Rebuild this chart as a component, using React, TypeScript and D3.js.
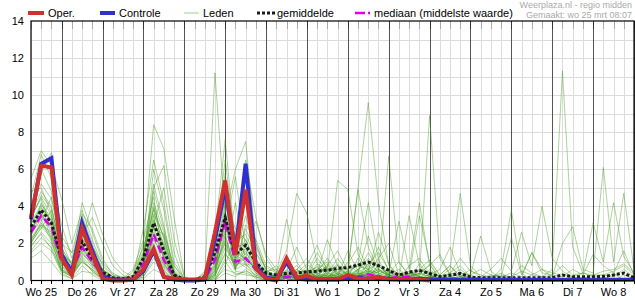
import React from 'react';
import * as d3 from 'd3';

const days = ['Wo 25','Do 26','Vr 27','Za 28','Zo 29','Ma 30','Di 31','Wo 1','Do 2','Vr 3','Za 4','Zo 5','Ma 6','Di 7','Wo 8'];
const yTicks = [0, 2, 4, 6, 8, 10, 12, 14];

// 6-hourly values starting Wo 25 06:00
const oper = [3.4,6.2,6.1,1.2, 0.3,2.8,1.4,0.1, 0,0,0.05,0.6, 1.7,0.2,0.1,0.05, 0.05,0.1,2.6,5.4, 1.4,4.9,0.65,0.1, 0,1.2,0.15,0.25, 0.05,0.05,0.05,0.3, 0.1,0.1,0.2,0.05, 0.05,0.05,0.05,0];
const controle = [3.3,6.3,6.6,1.4, 0.4,3.1,1.6,0.2, 0.05,0.05,0.05,0.5, 1.6,0.2,0.05,0, 0,0.05,2.2,5.0, 1.5,6.3,0.8,0.15, 0.05,1.0,0.1,0.05, 0.05,0.05,0.05,0.1, 0.15,0.1,0.15,0.1, 0.05,0.05,0.1,0.05, 0.05,0.04,0.04,0.05, 0.04,0.04,0.04,0.04, 0.04,0.04,0.04,0.04, 0.04,0.04,0.04,0.04, 0.04,0.04,0.04,0.04];
const gemiddelde = [2.9,3.8,3.1,1.2, 0.6,2.1,1.2,0.45, 0.15,0.1,0.2,1.2, 3.1,1.6,0.3,0.05, 0.05,0.2,1.5,3.4, 1.4,1.9,1.0,0.4, 0.3,0.38,0.4,0.47, 0.5,0.56,0.65,0.7, 0.83,1.0,0.8,0.55, 0.3,0.45,0.55,0.38, 0.2,0.28,0.38,0.18, 0.15,0.15,0.15,0.15, 0.15,0.15,0.15,0.15, 0.3,0.2,0.2,0.2, 0.22,0.3,0.4,0.15];
const mediaan = [2.6,3.5,2.9,1.0, 0.5,1.8,1.0,0.3, 0.05,0,0.05,0.9, 2.5,1.1,0.2,0, 0,0.05,1.1,3.2, 1.0,1.2,0.6,0.1, 0.05,0.2,0.1,0.1, 0.1,0.1,0.1,0.15, 0.2,0.34,0.2,0.1, 0.2,0.2,0.1,0.1, 0.05,0.1,0.1,0.05, 0.05,0.05,0.05,0.05, 0.05,0.05,0.05,0.05, 0.05,0.05,0.05,0.05, 0.05,0.05,0.05,0.05];

const leden: number[][] = [
  [3.2,5.8,6.9,2.1, 0.8,3.5,2.0,0.6, 0.2,0,0.1,1.5, 5.2,3.0,0.4,0, 0,0.2,2.0,6.5, 2.1,2.5,1.2,0.3, 0.2,0.8,0.3,0.1, 0.5,1.2,0.4,0.9, 1.8,0.6,0.2,0.1, 0,0.4,0.2,0, 0,0,0.3,0, 0,0,0,0, 0,0,0.2,0, 0,0,0,0, 0,0.4,0,0],
  [2.5,4.2,3.0,1.0, 0.3,1.8,0.9,0.2, 0,0,0,0.8, 3.5,1.2,0.1,0, 0,0,1.5,3.8, 1.0,1.6,0.5,0.1, 0,0.2,0.6,1.2, 0.3,0.1,0.8,0.2, 0.5,1.5,0.6,0.2, 0,0.1,0.9,0.3, 0.1,0,0,0, 0,0.1,0,0, 0,0,0,0, 0,0.2,0,0, 0,0,0.3,0.1],
  [4.5,6.8,5.5,3.0, 1.2,2.5,1.0,0.3, 0,0,0.2,2.8, 6.5,4.2,1.0,0.1, 0,0,0.5,2.5, 0.6,3.0,2.2,0.8, 0.5,0.1,0,0.4, 1.5,0.6,0.2,0.3, 0.1,0.4,2.6,0.9, 0.2,0,0.1,0.6, 0.2,0,0,0.1, 0,0,0,0, 0,0,0,0, 0,0,0,0, 0,0,0,0],
  [1.8,2.6,2.0,0.6, 0.2,1.2,0.5,0.1, 0,0,0,0.3, 1.8,0.6,0,0, 0,0,0,1.2, 4.2,1.0,1.8,0.6, 0.1,0,0.2,0, 0.2,0.8,1.6,0.5, 0.2,0.1,0,0.4, 1.0,0.3,0.1,0, 0,0.4,0.2,0, 0,0,0,0, 0,0,0,0.1, 0,0,0,0, 0,0,0,0],
  [3.6,4.8,4.0,1.5, 0.9,4.2,2.6,1.0, 0.4,0.1,0,1.1, 4.0,2.2,0.3,0, 0,0,0.3,2.8, 5.6,1.8,3.2,1.4, 0.6,0.2,0.1,0.5, 0.2,0,0.3,1.0, 0.4,2.4,0.8,0.3, 0.1,0,0.6,1.1, 0.3,0,0,0, 0,0,0,0.1, 0,0,0,0, 0,0,0,0, 0,0,0,0.2],
  [2.2,3.0,2.4,0.8, 0.4,2.0,1.2,0.4, 0.1,0,0,0.5, 2.5,1.5,0.2,0, 0,0,0,0.8, 2.5,0.8,1.0,0.4, 0.2,0.5,1.8,0.6, 0.1,0.3,0.2,0.1, 0.6,0.3,1.2,2.0, 0.3,0.1,0,0, 0,0,0.2,0.6, 0.1,0,0,0, 0,0,0,0, 0,0.1,0,0, 0,0,0,0],
  [5.5,7.0,6.2,4.4, 2.0,3.8,2.2,0.8, 0.2,0,0.1,2.0, 8.4,7.1,3.4,0.2, 0,0,0.4,3.5, 6.0,7.5,2.0,0.5, 0.1,0,0.1,0.2, 0.8,0.2,0.6,0.3, 0.2,0.5,0.4,0.1, 0,0.2,0.4,0.2, 0,0,0,0, 0,0,0,0, 0,0,0,0, 0,0,0,0, 0,0,0,0],
  [2.8,3.4,2.8,1.2, 0.5,1.0,0.6,0.1, 0,0,0,0.6, 2.0,0.8,0.1,0, 0,0.2,11.2,3.5, 0.6,0.9,0.2,0.1, 0,0.3,0.1,0.8, 1.9,0.5,0.1,0.2, 0.4,0.8,0.3,0.1, 0,0,0.3,0.9, 0.1,0.2,0,0, 0,0,0,0, 0.1,0,0,0, 0,0,0.2,0, 0,0,0,0],
  [1.5,2.0,1.6,0.4, 0.1,0.8,0.3,0, 0,0,0,0.2, 1.0,0.4,0,0, 0,0,0.1,0.6, 0.4,0.3,0.2,0, 0,0,0,0.1, 0.2,0,0,0, 0.3,0.1,0,0, 0,0,0,0.2, 0,0,0,0, 0,0,0,0, 0,0,0,0, 0,0,0,0, 0,0,0,0],
  [3.0,4.0,3.2,1.5, 0.6,2.8,1.5,0.5, 0.1,0,0,1.2, 4.8,2.8,0.6,0, 0,0,1.0,4.5, 1.2,3.5,1.5,0.4, 0.3,0.1,0.6,0.2, 0.4,2.2,0.8,0.3, 0.9,0.4,0.1,0.3, 0.6,0.2,0,0, 0,0,0.1,0, 0,0,0,0, 0,0,0,0, 0,0,0,0, 0,0,0.1,0],
  [2.0,3.2,4.5,2.0, 1.5,2.2,4.2,2.5, 1.2,0.5,0.2,0.4, 3.0,5.0,1.5,0, 0,0.4,1.8,5.0, 1.6,4.8,2.0,0.6, 0,0.2,0.4,0.1, 0,0.3,1.2,0.4, 0.2,0.9,1.5,0.6, 0.2,0.5,0.2,0.1, 0,0,0,0.3, 0,0,0,0, 0,0,0,0, 0,0,0,0, 0,0,0,0],
  [2.4,3.6,2.6,0.9, 0.4,1.5,0.8,0.2, 0,0,0.5,1.8, 3.8,1.8,0.2,0, 0.1,0.3,2.5,7.6, 1.8,2.0,0.8,0.2, 0.1,0.4,0.2,0, 0.1,0.4,0.2,1.6, 0.5,0.2,0.8,0.3, 0,0.2,0.6,0.3, 0,0.2,0,0, 0,0,0.1,0, 0,0,0,0, 0,0,0,0, 0,0,0,0],
  [4.0,5.2,4.4,1.8, 0.7,3.0,1.8,0.5, 0.2,0,0,0.9, 6.0,3.8,0.8,0, 0,0,0.6,4.2, 2.8,2.2,1.0,0.4, 0.8,0.3,0.1,0, 0.3,0.1,0.4,0.2, 1.2,0.3,0.1,0.2, 0,0.8,1.2,0.3, 0,0,0,0, 0,0,0,0, 0,0,0,0, 0,0,0,0, 0.2,0,0,0],
  [2.6,3.8,2.2,0.5, 0.2,1.4,1.0,0.3, 0.1,0.1,0.6,2.2, 4.5,1.0,0,0, 0,0,0.2,1.8, 0.8,1.2,0.6,0.1, 0.2,0.1,0.3,0.6, 0.2,0.1,0.2,0.5, 5.0,9.6,4.2,0.8, 0.2,0.1,0,0, 0,0,0,0, 0,0,0,0, 0,0,0,0, 0,0,0,0, 0,0,0,0],
  [1.2,1.6,1.0,0.3, 0.1,0.5,0.4,0.1, 0,0,0,0.1, 0.6,0.3,0,0, 0,0,0,0.4, 0.2,0.6,0.1,0, 0,0,0.1,0.3, 0.6,0.2,0,0.1, 0.2,0.4,0.1,0, 0,0,0.2,0.1, 0,0.1,0,0, 0,0,0,0, 0,0,0,0, 0,0,0,0, 0,0,0,0],
  [3.4,4.5,3.5,1.4, 1.0,3.2,1.8,0.9, 0.3,0.2,0.1,0.6, 2.8,2.5,0.8,0.1, 0,0.1,1.2,3.0, 0.9,2.8,1.5,0.7, 0.4,1.6,4.7,3.6, 0.9,0.3,0.1,0.2, 0.3,0.6,0.4,0.2, 0,0,0.1,0, 0,0,0,0, 0,0,0,0, 0,0,0,0, 0,0,0,0, 0,0,0,0],
  [2.1,2.8,3.8,1.6, 0.6,2.4,3.4,2.0, 0.8,0.3,0,0.7, 3.2,2.0,0.4,0, 0,0.5,2.8,4.8, 2.2,1.4,0.4,0.1, 0.3,3.3,1.0,0.2, 0.1,0.5,5.4,4.9, 1.4,0.5,0.3,0.1, 0.3,0.1,0,0.2, 0,0,0,0, 0,0,0,0, 0,0,0,0, 0,0,0,0, 0,0,0,0],
  [3.8,6.0,4.8,2.4, 1.5,3.6,2.8,1.2, 0.3,0,0,0.9, 5.0,6.2,2.2,0.2, 0,0,0.8,2.0, 0.6,6.5,3.4,1.2, 0.4,0.1,0,0.2, 0.6,1.0,0.3,0.1, 0.2,0.3,0.6,0.4, 0.2,0.4,0.2,0.1, 0,0,0,0, 0,0,0,0, 0,0,0,0, 0,0,0,0, 0,0,0,0],
  [2.3,3.1,2.5,0.7, 0.3,1.6,0.8,0.2, 0,0,0,0.4, 2.2,1.4,0.1,0, 0,0,0.6,3.2, 1.4,1.0,0.5,0.3, 0.2,0.1,0.4,0.9, 0.4,0.2,0.3,0.2, 0.6,1.2,0.4,6.7, 1.0,0.2,0.4,0.8, 0.2,0,0,0, 0,0,0,0, 0,0,0,0, 0,0,0,0, 0,0,0,0],
  [4.8,5.0,3.6,1.3, 0.5,2.2,1.4,0.4, 0.1,0.1,0.2,1.4, 3.6,2.4,0.3,0, 0,0,1.6,5.8, 1.1,0.7,0.3,0.1, 0,0.6,0.2,0.1, 0.3,0.1,0.6,0.4, 0.9,4.2,1.1,0.2, 0.1,0.3,3.5,1.0, 0.3,0.8,0.2,0, 0,0,0,0, 0,0,0,0, 0,0,0,0, 0,0,0,0],
  [1.6,2.3,1.8,0.5, 0.3,1.0,0.6,0.2, 0,0,0.1,0.5, 1.5,0.9,0.1,0, 0,0,0.3,1.5, 0.5,0.4,0.2,0, 0.1,0.3,0.2,0.4, 0.2,0.9,0.3,0.1, 0.4,0.2,0.8,0.3, 3.2,0.6,4.2,0.8, 1.4,0.3,0,0.1, 0,0,0,0, 0,0,0,0, 0,0,0,0, 0,0,0,0],
  [2.9,3.5,2.9,1.1, 0.8,2.6,1.2,0.3, 0,0,0,1.0, 2.9,1.1,0.2,0, 0,0,0.4,2.4, 0.7,1.5,0.8,0.2, 0.3,0.5,0.3,0.2, 0.9,0.6,0.5,0.3, 0.6,0.9,0.5,0.3, 0.2,0.4,0.3,8.9, 1.2,0.3,0.6,0.2, 0,0,0,0, 0,0,0,0, 0,0,0,0, 0,0,0,0],
  [3.3,4.6,3.9,1.7, 0.9,1.9,1.1,0.3, 0.1,0,0.3,1.6, 4.2,2.6,0.5,0, 0,0.1,1.4,2.6, 1.5,1.2,0.6,0.1, 0,0.4,0.8,0.3, 1.2,0.5,0.8,0.6, 4.9,1.8,0.6,0.3, 0.1,0.3,0.5,0.4, 0.2,0.6,4.7,0.8, 0.2,0,0,0, 0,0,0,0, 0,0,0,0, 0,0,0,0],
  [2.7,3.9,3.3,1.0, 0.4,2.0,1.6,0.6, 0.2,0.1,0,0.7, 3.3,1.6,0.3,0, 0,0,0.5,3.6, 1.3,2.2,1.0,0.5, 0.6,0.2,0.1,0.2, 0.3,0.8,0.4,0.2, 0.3,0.6,1.8,0.5, 0.1,3.5,0.8,0.2, 0,0.4,0.8,0.2, 0,0.1,0.6,3.8, 0.4,0,0,0, 0,0,0,0, 0,0,0,0],
  [2.0,2.9,2.3,0.8, 0.2,1.7,0.9,0.2, 0,0,0,0.3, 2.6,1.3,0.1,0, 0,0,0.2,2.1, 0.6,1.8,0.7,0.1, 0.1,0.2,0.5,0.2, 0.2,0.4,0.2,0.3, 0.4,0.2,0.3,0.6, 0.2,0,0.2,0.3, 0.1,0.2,0.4,0.1, 0.2,0.6,1.2,0.5, 2.6,0.8,4.0,1.2, 0.5,0.2,0.1,0.3, 0.3,0.5,0.8,0.3],
  [3.5,4.4,3.0,1.1, 0.6,2.3,1.3,0.4, 0.1,0,0,1.3, 3.9,2.3,0.4,0, 0,0,0.9,3.4, 1.7,1.1,0.7,0.2, 0.2,0.3,0.1,0.5, 0.7,0.4,0.9,0.3, 0.3,0.5,0.2,0.1, 0.1,0.2,0.4,0.2, 0.3,0.8,0.2,0, 0.1,0.2,0.4,0.1, 0,0.3,0.2,0.6, 11.3,1.8,0.4,0.2, 0.3,0.2,0.6,0.2],
  [2.5,3.3,2.1,0.6, 0.3,1.3,0.7,0.2, 0,0,0,0.4, 1.7,0.7,0.1,0, 0,0,0.3,1.4, 0.9,0.9,0.4,0.1, 0.3,0.2,0.2,0.1, 0.2,0.3,0.1,0.2, 0.2,0.4,0.2,0.1, 0,0.1,0.1,0, 0,0.1,0.2,0.3, 0.6,0.3,0.2,0.4, 0.2,1.5,0.4,0.3, 0.8,0.3,0.4,3.1, 1.0,4.2,1.3,0.4],
  [1.9,2.5,1.7,0.5, 0.2,1.1,0.5,0.1, 0,0,0,0.2, 1.2,0.5,0,0, 0,0,0.1,1.0, 0.3,0.5,0.3,0.1, 0,0.1,0,0.2, 0.4,0.2,0.1,0.3, 0.1,0.2,0.5,0.3, 0.2,0.1,0,0.1, 0,0,0.1,0, 0.1,0.3,0.2,2.3, 0.3,1.5,0.6,0.2, 2.0,2.9,0.6,0.4, 6.1,1.0,4.7,0.6],
  [2.2,3.0,2.6,1.0, 0.5,1.8,1.0,0.3, 0.1,0,0,0.6, 2.3,0.9,0.1,0, 0,0,0.7,2.2, 0.8,1.3,0.6,0.2, 0.1,0,0.1,0, 0.1,0.2,0.4,0.2, 0.2,0.3,0.6,0.2, 0.1,0,0.1,0.3, 0.6,1.8,0.4,0.3, 2.4,0.5,0.1,0.2, 0.8,0.4,0.2,0.3, 0.2,0.6,0.3,1.4, 0.8,0.4,1.6,0.3],
  [3.1,4.1,3.4,1.3, 0.7,2.7,1.6,0.6, 0.2,0,0,0.9, 3.0,1.9,0.3,0, 0,0,0.8,3.0, 1.2,1.7,0.9,0.3, 0.4,0.3,0.6,0.3, 0.5,0.7,0.3,0.5, 0.8,0.6,0.9,0.4, 0.3,0.2,0.3,0.5, 0.2,0.4,1.2,0.5, 0.3,0.2,0.3,0.2, 0.5,0.3,0.6,0.4, 0.3,0.2,0.4,0.3, 0.5,0.6,0.9,0.4],
];

const W = 635, H = 300;
const L = 31, R = 634, T = 21, B = 280.5;
const NSTEPS = 59;

export default function App() {
  const x = d3.scaleLinear().domain([0, NSTEPS]).range([L, R]);
  const y = d3.scaleLinear().domain([0, 14]).range([B, T]);
  const line = d3.line<number>().x((_, i) => x(i)).y(d => y(d));
  const steps = d3.range(0, NSTEPS + 1);
  const dayLines = steps.filter(t => (t - 3) % 4 === 0);
  const hLines = d3.range(1, 14);
  const font = "'Liberation Sans', Arial, sans-serif";

  return (
    <svg width={W} height={H} style={{ position: 'absolute', left: 0, top: 0, background: '#fff' }} fontFamily={font}>
      {hLines.map(v => (
        <line key={'h' + v} x1={L} x2={R} y1={Math.round(y(v)) + 0.5} y2={Math.round(y(v)) + 0.5} stroke="#dcdcdc" strokeWidth={1} />
      ))}
      {steps.map(t => (
        <line key={'v' + t} x1={Math.round(x(t)) + 0.5} x2={Math.round(x(t)) + 0.5} y1={T} y2={B}
          stroke={dayLines.includes(t) ? '#555' : '#dcdcdc'} strokeWidth={1} />
      ))}
      {steps.map(t => (
        <line key={'tt' + t} x1={Math.round(x(t)) + 0.5} x2={Math.round(x(t)) + 0.5} y1={T} y2={T + 8}
          stroke={dayLines.includes(t) ? '#333' : '#aaa'} strokeWidth={1} />
      ))}
      <g fill="none" stroke="rgb(60,150,20)" strokeOpacity={0.42} strokeWidth={1}>
        {leden.map((m, i) => <path key={'m' + i} d={line(m) || ''} />)}
      </g>
      <path d={line(mediaan) || ''} fill="none" stroke="#dd00ee" strokeWidth={2.5} strokeDasharray="8,4" />
      <path d={line(gemiddelde) || ''} fill="none" stroke="#1a1a1a" strokeWidth={3} strokeDasharray="3,2" />
      <path d={line(controle) || ''} fill="none" stroke="#3030d0" strokeWidth={4} />
      <path d={line(oper) || ''} fill="none" stroke="#d03030" strokeWidth={4} />
      <rect x={L} y={T} width={R - L} height={B - T} fill="none" stroke="#000" strokeWidth={1.2} />
      {steps.map(t => (
        <line key={'bt' + t} x1={Math.round(x(t)) + 0.5} x2={Math.round(x(t)) + 0.5} y1={B} y2={B + 3.5} stroke="#000" strokeWidth={1} />
      ))}
      {yTicks.map(v => (
        <text key={'yl' + v} x={24} y={y(v) + 4} textAnchor="end" fontSize={11} fill="#000">{v}</text>
      ))}
      {days.map((d, k) => (
        <text key={'xl' + k} x={x(4 * k + 1)} y={295.5} textAnchor="middle" fontSize={11} fill="#000">{d}</text>
      ))}
      <g fontSize={11} fill="#000">
        <line x1={28} x2={44} y1={13} y2={13} stroke="#d03030" strokeWidth={4} />
        <text x={48} y={17}>Oper.</text>
        <line x1={100} x2={115} y1={13} y2={13} stroke="#3030d0" strokeWidth={4} />
        <text x={119} y={17}>Controle</text>
        <line x1={184} x2={199} y1={13} y2={13} stroke="rgb(175,215,160)" strokeWidth={1.2} />
        <text x={203} y={17}>Leden</text>
        <line x1={257} x2={275} y1={13} y2={13} stroke="#1a1a1a" strokeWidth={3} strokeDasharray="3,2" />
        <text x={277} y={17}>gemiddelde</text>
        <line x1={355} x2={370} y1={13} y2={13} stroke="#dd00ee" strokeWidth={2.5} strokeDasharray="10,3" />
        <text x={374} y={17}>mediaan (middelste waarde)</text>
      </g>
      <text x={632} y={7.5} textAnchor="end" fontSize={9} fill="#aaa">Weerplaza.nl - regio midden</text>
      <text x={632} y={17.5} textAnchor="end" fontSize={9} fill="#aaa">Gemaakt: wo 25 mrt 08:07</text>
    </svg>
  );
}
